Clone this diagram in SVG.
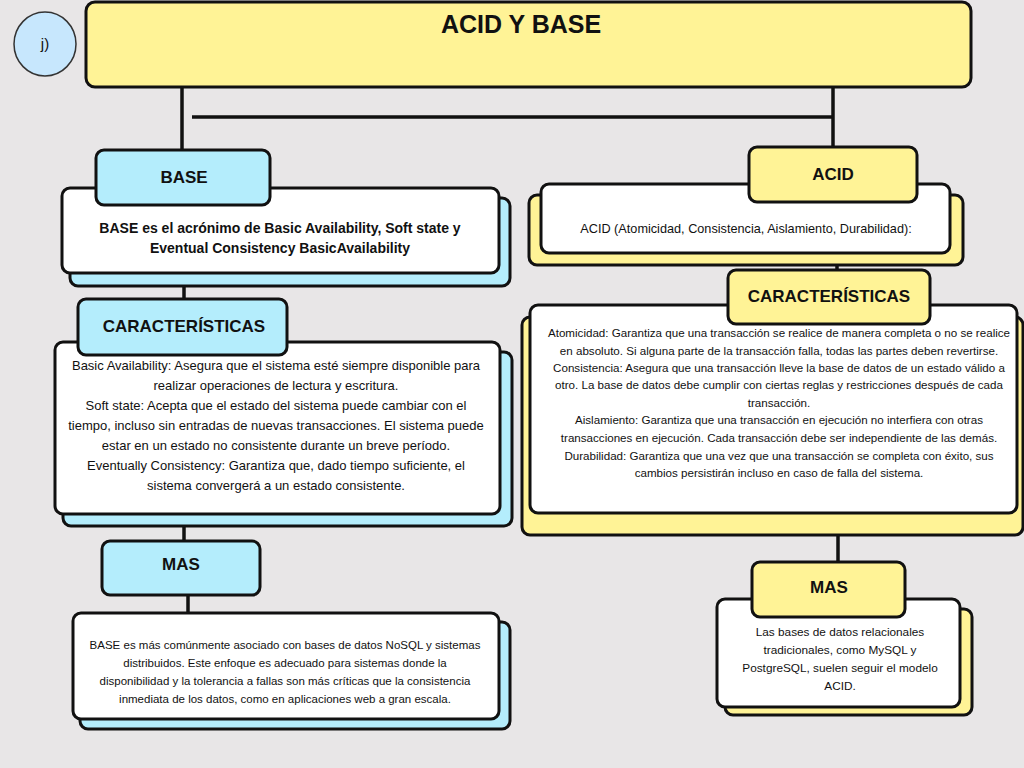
<svg xmlns="http://www.w3.org/2000/svg" width="1024" height="768" viewBox="0 0 1024 768">
<style>
.bg{fill:#e8e6e7}
.box{stroke:#111;stroke-width:3}
.y{fill:#fff396}
.b{fill:#b4edfc}
.w{fill:#ffffff}
.hd{font-family:"Liberation Sans",Arial,sans-serif;font-weight:bold;fill:#111;text-anchor:middle}
.tx{font-family:"Liberation Sans",Arial,sans-serif;fill:#111;text-anchor:middle}
.ln{stroke:#111;stroke-width:3.5;fill:none}
</style>
<rect class="bg" x="0" y="0" width="1024" height="768"/>
<g id="connectors">
<line class="ln" x1="182" y1="87" x2="182" y2="150"/>
<line class="ln" x1="192" y1="117" x2="833" y2="117"/>
<line class="ln" x1="833" y1="87" x2="833" y2="148"/>
<line class="ln" x1="184" y1="286" x2="184" y2="299"/>
<line class="ln" x1="184" y1="526" x2="184" y2="541"/>
<line class="ln" x1="188" y1="595" x2="188" y2="613"/>
<line class="ln" x1="837" y1="264" x2="837" y2="271"/>
<line class="ln" x1="838" y1="535" x2="838" y2="563"/>
</g>
<g id="label-j">
<ellipse cx="45" cy="44" rx="31" ry="32" fill="#c7e7fd" stroke="#333" stroke-width="1.5"/>
<text class="tx" x="45" y="49" font-size="15">j)</text>
</g>
<g id="title">
<rect class="box y" x="86" y="2" width="885" height="85" rx="9"/>
<text class="hd" x="521" y="33" font-size="25">ACID Y BASE</text>
</g>
<g id="base-desc">
<rect class="box b" x="70" y="198" width="440" height="88" rx="8"/>
<rect class="box w" x="62" y="188" width="437" height="85" rx="8"/>
<text class="hd" x="280" y="233" font-size="14">BASE es el acrónimo de Basic Availability, Soft state y</text>
<text class="hd" x="280" y="253" font-size="14">Eventual Consistency BasicAvailability</text>
</g>
<g id="base">
<rect class="box b" x="96" y="150" width="174" height="55" rx="8"/>
<text class="hd" x="184" y="183" font-size="17">BASE</text>
</g>
<g id="base-car-desc">
<rect class="box b" x="63" y="352" width="449" height="174" rx="8"/>
<rect class="box w" x="55" y="342" width="445" height="172" rx="8"/>
<g class="tx" font-size="13">
<text x="276" y="370">Basic Availability: Asegura que el sistema esté siempre disponible para</text>
<text x="276" y="390">realizar operaciones de lectura y escritura.</text>
<text x="276" y="410">Soft state: Acepta que el estado del sistema puede cambiar con el</text>
<text x="276" y="430">tiempo, incluso sin entradas de nuevas transacciones. El sistema puede</text>
<text x="276" y="450">estar en un estado no consistente durante un breve período.</text>
<text x="276" y="470">Eventually Consistency: Garantiza que, dado tiempo suficiente, el</text>
<text x="276" y="490">sistema convergerá a un estado consistente.</text>
</g>
</g>
<g id="base-car">
<rect class="box b" x="78" y="299" width="209" height="56" rx="8"/>
<text class="hd" x="184" y="332" font-size="17">CARACTERÍSTICAS</text>
</g>
<g id="base-mas">
<rect class="box b" x="102" y="541" width="158" height="54" rx="8"/>
<text class="hd" x="181" y="570" font-size="17">MAS</text>
</g>
<g id="base-mas-desc">
<rect class="box b" x="80" y="622" width="430" height="107" rx="8"/>
<rect class="box w" x="73" y="613" width="426" height="106" rx="8"/>
<g class="tx" font-size="11.5">
<text x="285" y="649">BASE es más comúnmente asociado con bases de datos NoSQL y sistemas</text>
<text x="285" y="667">distribuidos. Este enfoque es adecuado para sistemas donde la</text>
<text x="285" y="685">disponibilidad y la tolerancia a fallas son más críticas que la consistencia</text>
<text x="285" y="703">inmediata de los datos, como en aplicaciones web a gran escala.</text>
</g>
</g>
<g id="acid-desc">
<rect class="box y" x="529" y="195" width="434" height="70" rx="8"/>
<rect class="box w" x="541" y="184" width="409" height="69" rx="8"/>
<text class="tx" x="746" y="233" font-size="12.7">ACID (Atomicidad, Consistencia, Aislamiento, Durabilidad):</text>
</g>
<g id="acid">
<rect class="box y" x="749" y="147" width="168" height="55" rx="8"/>
<text class="hd" x="833" y="180" font-size="17">ACID</text>
</g>
<g id="acid-car-desc">
<rect class="box y" x="522" y="317" width="501" height="218" rx="8"/>
<rect class="box w" x="530" y="305" width="487" height="208" rx="8"/>
<g class="tx" font-size="11.6">
<text x="779" y="337">Atomicidad: Garantiza que una transacción se realice de manera completa o no se realice</text>
<text x="779" y="355">en absoluto. Si alguna parte de la transacción falla, todas las partes deben revertirse.</text>
<text x="779" y="372">Consistencia: Asegura que una transacción lleve la base de datos de un estado válido a</text>
<text x="779" y="389">otro. La base de datos debe cumplir con ciertas reglas y restricciones después de cada</text>
<text x="779" y="407">transacción.</text>
<text x="779" y="424">Aislamiento: Garantiza que una transacción en ejecución no interfiera con otras</text>
<text x="779" y="442">transacciones en ejecución. Cada transacción debe ser independiente de las demás.</text>
<text x="779" y="460">Durabilidad: Garantiza que una vez que una transacción se completa con éxito, sus</text>
<text x="779" y="477">cambios persistirán incluso en caso de falla del sistema.</text>
</g>
</g>
<g id="acid-car">
<rect class="box y" x="728" y="270" width="202" height="54" rx="8"/>
<text class="hd" x="829" y="302" font-size="17">CARACTERÍSTICAS</text>
</g>
<g id="acid-mas-desc">
<rect class="box y" x="725" y="609" width="247" height="106" rx="8"/>
<rect class="box w" x="717" y="599" width="243" height="108" rx="8"/>
<g class="tx" font-size="11.8">
<text x="840" y="636">Las bases de datos relacionales</text>
<text x="840" y="654">tradicionales, como MySQL y</text>
<text x="840" y="672">PostgreSQL, suelen seguir el modelo</text>
<text x="840" y="690">ACID.</text>
</g>
</g>
<g id="acid-mas">
<rect class="box y" x="752" y="562" width="153" height="55" rx="8"/>
<text class="hd" x="829" y="593" font-size="17">MAS</text>
</g>
</svg>
